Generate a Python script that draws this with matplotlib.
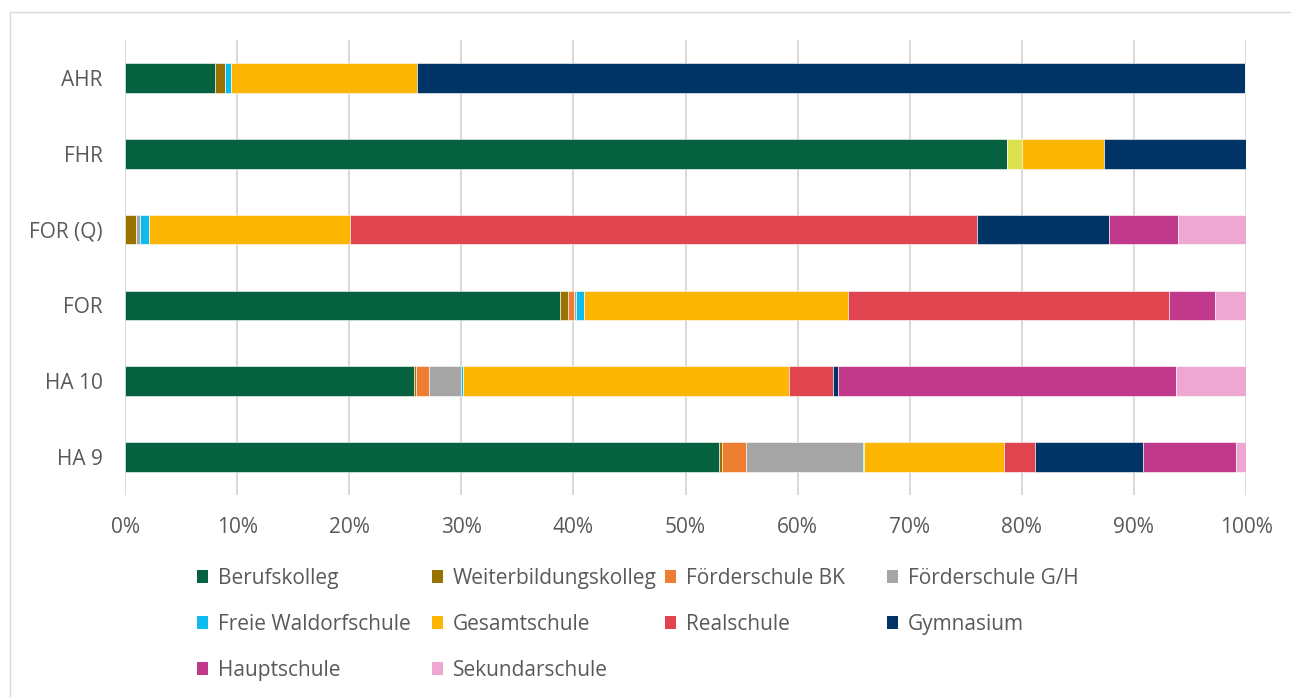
import matplotlib
matplotlib.use("Agg")
import matplotlib.pyplot as plt
from matplotlib.patches import Rectangle
from matplotlib.ticker import PercentFormatter
import numpy as np

plt.rcParams['font.family'] = ['Open Sans', 'DejaVu Sans']

# --- data (shares in %) ---
categories = ["AHR", "FHR", "FOR (Q)", "FOR", "HA 10", "HA 9"]

berufskolleg        = [8.0, 78.7, 0.0, 38.8, 25.8, 53.0]
weiterbildung       = [0.9, 0.0, 1.0, 0.7, 0.2, 0.3]
foerder_bk          = [0.0, 0.0, 0.0, 0.55, 1.1, 2.1]
foerder_gh          = [0.0, 0.0, 0.3, 0.15, 2.9, 10.4]
waldorf             = [0.6, 0.0, 0.8, 0.75, 0.15, 0.1]
sonstige            = [0.0, 1.3, 0.0, 0.0, 0.0, 0.0]   # unlabelled segment (FHR only)
gesamtschule        = [16.55, 7.3, 18.0, 23.55, 29.05, 12.5]
realschule          = [0.0, 0.0, 55.9, 28.6, 4.0, 2.8]
gymnasium           = [73.9, 12.7, 11.8, 0.0, 0.4, 9.6]
hauptschule         = [0.0, 0.0, 6.1, 4.1, 30.15, 8.35]
sekundarschule      = [0.0, 0.0, 6.1, 2.9, 6.25, 0.85]

series = [
    ("Berufskolleg", berufskolleg, "#05613F"),
    ("Weiterbildungskolleg", weiterbildung, "#997300"),
    ("Förderschule BK", foerder_bk, "#ED7D31"),
    ("Förderschule G/H", foerder_gh, "#A5A5A5"),
    ("Freie Waldorfschule", waldorf, "#0DBBEF"),
    (None, sonstige, "#DCDF4E"),
    ("Gesamtschule", gesamtschule, "#FCB500"),
    ("Realschule", realschule, "#E0444E"),
    ("Gymnasium", gymnasium, "#003366"),
    ("Hauptschule", hauptschule, "#C0398A"),
    ("Sekundarschule", sekundarschule, "#EEA7D1"),
]

# legend rows as in the reference (4 columns)
legend_rows = [
    ["Berufskolleg", "Weiterbildungskolleg", "Förderschule BK", "Förderschule G/H"],
    ["Freie Waldorfschule", "Gesamtschule", "Realschule", "Gymnasium"],
    ["Hauptschule", "Sekundarschule"],
]

W, H = 1291, 697
fig = plt.figure(figsize=(W / 100, H / 100), dpi=100)
ax = fig.add_axes([125 / W, 1 - 495 / H, (1246 - 125) / W, (495 - 40) / H])

txt = "#595959"
fs = 15

y = np.arange(len(categories))
left = np.zeros(len(categories))
handles = {}
for name, vals, col in series:
    vals = np.array(vals)
    bars = ax.barh(y, vals, left=left, height=0.39, color=col,
                   edgecolor="white", linewidth=0.4, zorder=3)
    if name:
        handles[name] = bars
    left += vals

ax.set_xlim(0, 100)
ax.set_ylim(len(categories) - 0.5, -0.5)
ax.set_xticks(np.arange(0, 101, 10))
ax.xaxis.set_major_formatter(PercentFormatter(100, decimals=0))
ax.set_yticks(y)
ax.set_yticklabels(categories)
ax.tick_params(axis="both", length=0, labelsize=fs, labelcolor=txt)
ax.tick_params(axis="x", pad=16)
ax.tick_params(axis="y", pad=16)
ax.grid(axis="x", color="#D9D9D9", linewidth=1.4, zorder=0)
for s in ax.spines.values():
    s.set_visible(False)

# legend: one legend per column so the columns line up like Excel
col_x = [197, 432, 665, 887]
for c, x0 in enumerate(col_x):
    names = [row[c] for row in legend_rows if c < len(row)]
    leg = fig.legend([handles[n] for n in names], names,
                     loc="upper left", bbox_to_anchor=(x0 / W, 1 - 568 / H),
                     frameon=False, fontsize=fs, labelcolor=txt,
                     handlelength=0.55, handleheight=0.55, handletextpad=0.45,
                     labelspacing=1.2, borderpad=0, borderaxespad=0)
    for h in leg.legend_handles:
        h.set_linewidth(0)

# chart area border
fig.add_artist(Rectangle((9.5 / W, -0.01), 1.02, 1 - 11.5 / H + 0.01,
                         transform=fig.transFigure, fill=False,
                         edgecolor="#D9D9D9", linewidth=1.0))

fig.savefig("out.png", dpi=100)
